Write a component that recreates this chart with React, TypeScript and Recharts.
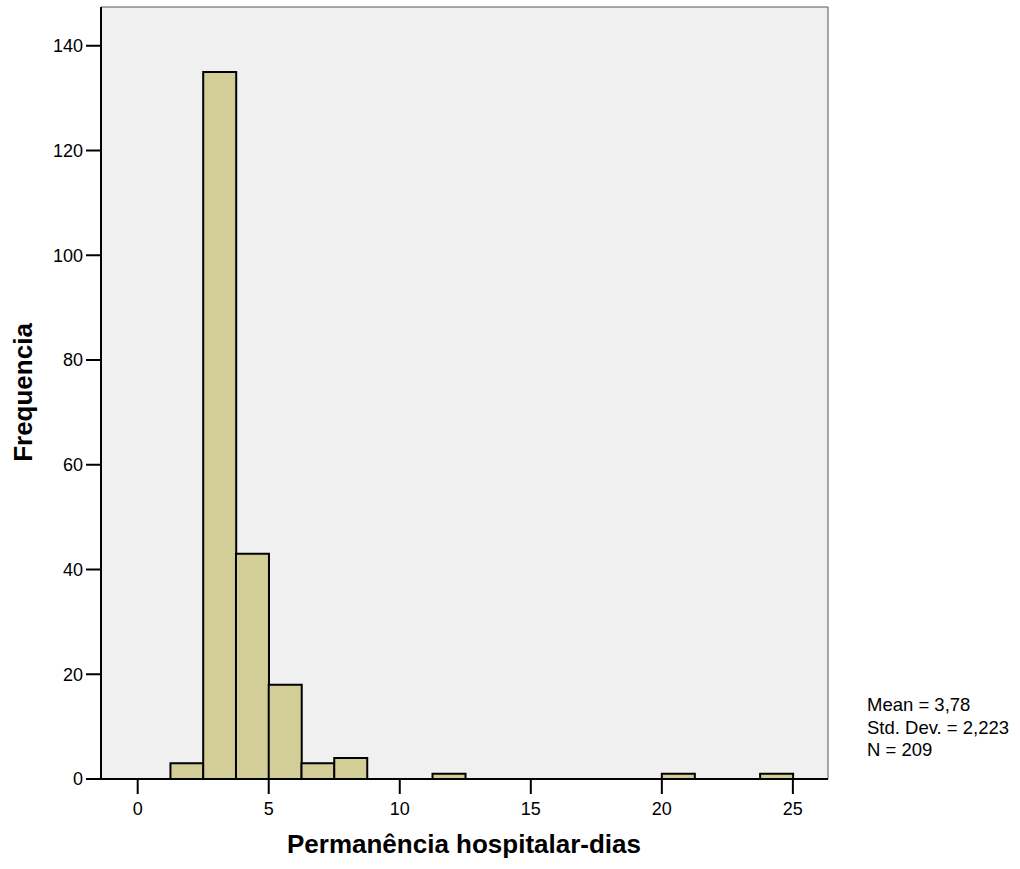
import React from "react";
import { ComposedChart, Bar, XAxis, YAxis, Customized, ReferenceArea } from "recharts";

// Histogram bins (width 1.25 days)
const binStarts = [1.25, 2.5, 3.75, 5, 6.25, 7.5, 8.75, 10, 11.25, 12.5, 13.75, 15, 16.25, 17.5, 18.75, 20, 21.25, 22.5, 23.75];
const binWidth = 1.25;
const counts = [3, 135, 43, 18, 3, 4, 0, 0, 1, 0, 0, 0, 0, 0, 0, 1, 0, 0, 1];
const xTicks = [0, 5, 10, 15, 20, 25];
const yTicks = [0, 20, 40, 60, 80, 100, 120, 140];
const statsLines = ["Mean = 3,78", "Std. Dev. = 2,223", "N = 209"];
const xTitle = "Permanência hospitalar-dias";
const yTitle = "Frequencia";

const data = binStarts.map((s, i) => ({ mid: s + binWidth / 2, count: counts[i] }));

const FONT = "'Liberation Sans', Arial, sans-serif";
const X_DOMAIN: [number, number] = [-1.4, 26.34];
const Y_DOMAIN: [number, number] = [0, 147.4];

const Overlay = () => (
  <g fontFamily={FONT} fill="#000">
    <text x={464} y={853} textAnchor="middle" fontSize={26} fontWeight="bold">
      {xTitle}
    </text>
    <text
      x={32}
      y={392.5}
      textAnchor="middle"
      fontSize={26}
      fontWeight="bold"
      transform="rotate(-90 32 392.5)"
    >
      {yTitle}
    </text>
    {statsLines.map((t, i) => (
      <text key={t} x={867} y={711 + i * 22.5} fontSize={18.5}>
        {t}
      </text>
    ))}
  </g>
);

export default function App() {
  return (
    <div style={{ position: "absolute", left: 0, top: 0, width: 1020, height: 869, background: "#fff" }}>
      <ComposedChart
        width={1020}
        height={869}
        data={data}
        margin={{ top: 7, right: 192, left: 0, bottom: 0 }}
        barCategoryGap={0}
        barGap={0}
      >
        <ReferenceArea
          x1={X_DOMAIN[0]}
          x2={X_DOMAIN[1]}
          y1={Y_DOMAIN[0]}
          y2={Y_DOMAIN[1]}
          fill="#F0F0F0"
          fillOpacity={1}
          stroke="#555"
          strokeWidth={1}
          ifOverflow="visible"
        />
        <XAxis
          dataKey="mid"
          type="number"
          domain={X_DOMAIN}
          ticks={xTicks}
          allowDataOverflow
          height={90}
          tickSize={15}
          tickMargin={8}
          axisLine={{ stroke: "#000", strokeWidth: 2 }}
          tickLine={{ stroke: "#000", strokeWidth: 2 }}
          tick={{ fill: "#000", fontSize: 18, fontFamily: FONT }}
        />
        <YAxis
          type="number"
          domain={Y_DOMAIN}
          ticks={yTicks}
          allowDataOverflow
          width={101}
          tickSize={15}
          tickMargin={3}
          axisLine={{ stroke: "#000", strokeWidth: 2 }}
          tickLine={{ stroke: "#000", strokeWidth: 2 }}
          tick={{ fill: "#000", fontSize: 18, fontFamily: FONT }}
        />
        <Bar
          dataKey="count"
          fill="#D3CE97"
          stroke="#000"
          strokeWidth={2}
          isAnimationActive={false}
        />
        <Customized component={Overlay} />
      </ComposedChart>
    </div>
  );
}
